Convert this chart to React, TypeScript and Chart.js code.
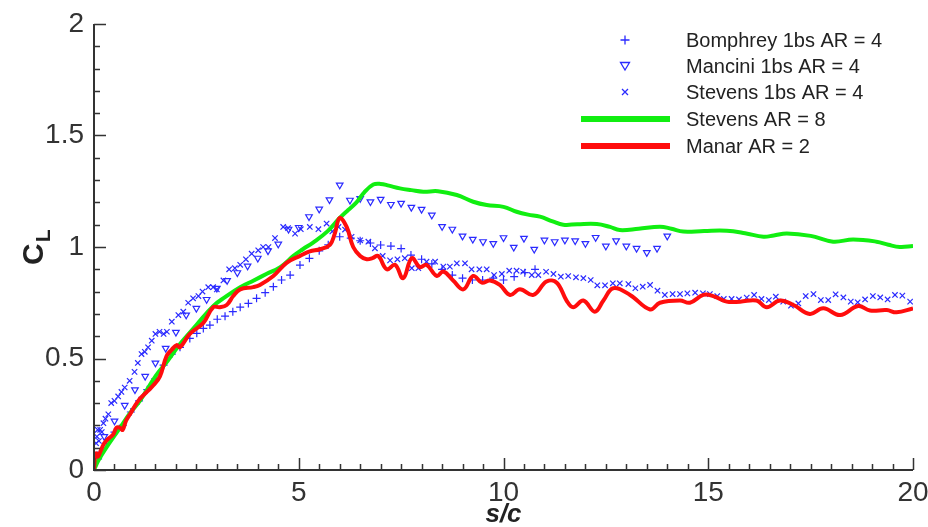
import React, { useEffect, useRef } from "react";
import { Chart, registerables } from "chart.js";

Chart.register(...registerables);

const seriesNames = [
  "Bomphrey 1bs AR = 4",
  "Mancini 1bs AR = 4",
  "Stevens 1bs AR = 4",
  "Stevens AR = 8",
  "Manar AR = 2",
];

const xTickValues = [0, 5, 10, 15, 20];
const yTickValues = [0, 0.5, 1, 1.5, 2];
const xAxisTitle = "s/c";
const yAxisTitleMain = "C";
const yAxisTitleSub = "L";

// Bomphrey 1bs AR = 4 (+)
const bomphreyX = [0.1, 0.3, 0.5, 0.7, 0.9, 1.1, 1.3, 1.5, 1.7, 1.9, 2.1, 2.34, 2.51, 2.67, 2.83, 3.01, 3.2, 3.39, 3.57, 3.77, 3.97, 4.18, 4.38, 4.58, 4.79, 5.03, 5.26, 5.5, 5.72, 6.0, 6.27, 6.5, 6.75, 7.0, 7.25, 7.5, 7.74, 8.0, 8.25, 8.5, 8.75, 9.0, 9.24, 9.49, 9.75, 10.0, 10.26, 10.52, 10.77];
const bomphreyY = [0.05, 0.12, 0.17, 0.2, 0.26, 0.31, 0.36, 0.41, 0.47, 0.52, 0.55, 0.59, 0.613, 0.635, 0.65, 0.676, 0.69, 0.71, 0.73, 0.747, 0.77, 0.795, 0.822, 0.852, 0.874, 0.919, 0.949, 0.983, 1.01, 1.046, 1.04, 1.028, 1.018, 1.009, 1.004, 0.993, 0.964, 0.945, 0.924, 0.9, 0.874, 0.86, 0.852, 0.852, 0.86, 0.852, 0.867, 0.885, 0.9];

// Mancini 1bs AR = 4 (inverted triangle)
const manciniX = [0.25, 0.5, 0.75, 1.0, 1.25, 1.5, 1.75, 2.0, 2.25, 2.5, 2.75, 3.0, 3.25, 3.5, 3.75, 4.0, 4.25, 4.5, 4.75, 5.0, 5.25, 5.5, 5.75, 6.0, 6.25, 6.5, 6.75, 7.0, 7.25, 7.5, 7.75, 8.0, 8.25, 8.5, 8.75, 9.0, 9.25, 9.5, 9.75, 10.0, 10.25, 10.5, 10.75, 11.0, 11.25, 11.5, 11.75, 12.0, 12.25, 12.5, 12.75, 13.0, 13.25, 13.5, 13.75, 14.0];
const manciniY = [0.15, 0.22, 0.29, 0.36, 0.42, 0.48, 0.546, 0.618, 0.695, 0.725, 0.765, 0.815, 0.85, 0.885, 0.915, 0.95, 0.983, 1.013, 1.08, 1.088, 1.136, 1.17, 1.212, 1.278, 1.21, 1.218, 1.203, 1.214, 1.191, 1.196, 1.178, 1.169, 1.143, 1.092, 1.08, 1.049, 1.035, 1.024, 1.016, 1.042, 0.999, 1.039, 0.99, 1.031, 1.024, 1.031, 1.028, 1.016, 1.043, 1.004, 1.028, 1.004, 0.994, 0.975, 0.994, 1.049];

// Stevens 1bs AR = 4 (x)
const stevens1bsX = [0.03, 0.05, 0.07, 0.09, 0.12, 0.15, 0.19, 0.23, 0.28, 0.35, 0.42, 0.5, 0.59, 0.67, 0.75, 0.87, 0.99, 1.07, 1.16, 1.24, 1.32, 1.41, 1.5, 1.6, 1.7, 1.78, 1.9, 2.06, 2.18, 2.3, 2.42, 2.55, 2.65, 2.79, 2.91, 3.0, 3.16, 3.3, 3.44, 3.57, 3.71, 3.85, 4.01, 4.13, 4.26, 4.42, 4.62, 4.74, 4.91, 5.05, 5.27, 5.48, 5.68, 5.82, 5.97, 6.13, 6.29, 6.5, 6.7, 6.86, 7.05, 7.23, 7.41, 7.59, 7.76, 7.92, 8.12, 8.33, 8.53, 8.69, 8.86, 9.06, 9.22, 9.41, 9.59, 9.77, 9.96, 10.14, 10.32, 10.48, 10.69, 10.85, 11.04, 11.22, 11.4, 11.58, 11.77, 11.95, 12.13, 12.29, 12.48, 12.67, 12.84, 13.05, 13.22, 13.4, 13.58, 13.76, 13.94, 14.13, 14.31, 14.49, 14.68, 14.87, 15.04, 15.22, 15.38, 15.57, 15.75, 15.94, 16.12, 16.3, 16.48, 16.65, 16.83, 17.02, 17.2, 17.38, 17.57, 17.75, 17.93, 18.11, 18.3, 18.48, 18.65, 18.83, 19.02, 19.2, 19.38, 19.56, 19.74, 19.93];
const stevens1bsY = [0.07, 0.12, 0.15, 0.18, 0.13, 0.18, 0.17, 0.21, 0.23, 0.25, 0.3, 0.31, 0.33, 0.35, 0.37, 0.4, 0.44, 0.48, 0.52, 0.53, 0.55, 0.58, 0.61, 0.62, 0.61, 0.62, 0.665, 0.695, 0.71, 0.75, 0.77, 0.78, 0.8, 0.82, 0.82, 0.81, 0.85, 0.9, 0.905, 0.92, 0.945, 0.97, 0.985, 1.0, 1.0, 1.04, 1.09, 1.085, 1.06, 1.08, 1.09, 1.08, 1.105, 1.07, 1.09, 1.078, 1.046, 1.03, 1.024, 0.994, 0.96, 0.94, 0.945, 0.95, 0.905, 0.905, 0.934, 0.934, 0.912, 0.912, 0.927, 0.927, 0.9, 0.9, 0.9, 0.874, 0.879, 0.894, 0.894, 0.889, 0.874, 0.874, 0.889, 0.879, 0.867, 0.87, 0.864, 0.86, 0.852, 0.828, 0.828, 0.837, 0.837, 0.834, 0.815, 0.822, 0.83, 0.804, 0.785, 0.789, 0.789, 0.792, 0.795, 0.792, 0.789, 0.78, 0.767, 0.767, 0.765, 0.773, 0.785, 0.767, 0.762, 0.777, 0.755, 0.737, 0.747, 0.78, 0.789, 0.762, 0.762, 0.788, 0.774, 0.755, 0.752, 0.765, 0.78, 0.774, 0.765, 0.785, 0.782, 0.755];

// Stevens AR = 8 (green line)
const stevens8X = [0, 0.1, 0.3, 0.6, 0.9, 1.12, 1.5, 1.8, 2.1, 2.5, 2.91, 3.2, 3.57, 3.9, 4.22, 4.55, 4.87, 5.1, 5.35, 5.7, 6.0, 6.2, 6.41, 6.6, 6.82, 7.0, 7.2, 7.47, 7.75, 8.04, 8.4, 8.86, 9.26, 9.59, 10.0, 10.32, 10.6, 10.89, 11.2, 11.46, 11.8, 12.28, 12.6, 12.84, 13.3, 13.82, 14.1, 14.39, 14.9, 15.45, 15.9, 16.35, 16.6, 16.92, 17.5, 18.05, 18.54, 19.11, 19.4, 19.68, 20];
const stevens8Y = [0, 0.04, 0.1, 0.18, 0.26, 0.31, 0.42, 0.49, 0.565, 0.65, 0.735, 0.775, 0.82, 0.85, 0.88, 0.91, 0.96, 0.99, 1.02, 1.07, 1.13, 1.165, 1.2, 1.245, 1.28, 1.283, 1.275, 1.263, 1.255, 1.248, 1.25, 1.233, 1.203, 1.188, 1.18, 1.158, 1.145, 1.136, 1.115, 1.1, 1.102, 1.103, 1.09, 1.076, 1.082, 1.091, 1.082, 1.069, 1.072, 1.073, 1.062, 1.046, 1.052, 1.061, 1.05, 1.024, 1.034, 1.024, 1.01, 1.0, 1.004];

// Manar AR = 2 (red line)
const manarX = [0, 0.03, 0.06, 0.1, 0.15, 0.25, 0.35, 0.47, 0.55, 0.63, 0.7, 0.78, 0.88, 1.08, 1.29, 1.45, 1.61, 1.77, 1.9, 2.02, 2.1, 2.34, 2.67, 2.91, 3.07, 3.24, 3.4, 3.57, 3.89, 4.05, 4.38, 4.71, 5.03, 5.27, 5.52, 5.76, 5.88, 6.0, 6.17, 6.33, 6.5, 6.66, 6.8, 6.94, 7.15, 7.35, 7.55, 7.76, 7.96, 8.12, 8.37, 8.53, 8.77, 9.02, 9.26, 9.47, 9.67, 9.91, 10.16, 10.4, 10.73, 11.05, 11.3, 11.54, 11.7, 11.95, 12.23, 12.44, 12.68, 13.09, 13.58, 13.82, 14.31, 14.55, 14.88, 15.12, 15.45, 15.78, 16.18, 16.43, 16.75, 17.08, 17.48, 17.81, 18.22, 18.66, 18.95, 19.36, 19.6, 20];
const manarY = [0, 0.07, 0.075, 0.06, 0.08, 0.12, 0.14, 0.16, 0.19, 0.19, 0.18, 0.22, 0.25, 0.31, 0.35, 0.38, 0.42, 0.51, 0.54, 0.56, 0.55, 0.61, 0.66, 0.73, 0.73, 0.74, 0.78, 0.81, 0.82, 0.83, 0.87, 0.93, 0.96, 0.98, 0.99, 1.01, 1.06, 1.13, 1.09, 1.0, 0.96, 0.945, 0.95, 0.96, 0.9, 0.92, 0.86, 0.95, 0.91, 0.92, 0.87, 0.89, 0.85, 0.81, 0.87, 0.84, 0.85, 0.83, 0.785, 0.81, 0.785, 0.845, 0.84, 0.76, 0.73, 0.76, 0.71, 0.76, 0.815, 0.785, 0.72, 0.75, 0.76, 0.75, 0.785, 0.78, 0.755, 0.755, 0.76, 0.73, 0.76, 0.74, 0.7, 0.725, 0.695, 0.735, 0.715, 0.717, 0.707, 0.725];

const BLUE = "#2a2aff";
const GREEN = "#11ee11";
const RED = "#ff0d0d";
const AXIS = "#333333";
const FONT = "'Liberation Sans', Arial, sans-serif";
const TICK_FONT = "'Liberation Sans Narrow', 'Arial Narrow', 'Liberation Sans', Arial, sans-serif";

const pts = (xs: number[], ys: number[]) => xs.map((x, i) => ({ x, y: ys[i] }));

const decor = {
  id: "decor",
  afterDraw(chart: any) {
    const { ctx, chartArea, scales } = chart;
    const { left, right, top, bottom } = chartArea;
    const xs = scales.x;
    const ys = scales.y;
    ctx.save();
    ctx.strokeStyle = AXIS;
    ctx.lineWidth = 2;
    ctx.beginPath();
    ctx.moveTo(left, top);
    ctx.lineTo(left, bottom);
    ctx.lineTo(right, bottom);
    ctx.stroke();
    ctx.lineWidth = 1.5;
    ctx.beginPath();
    for (let v = 0; v <= 20.001; v += 0.5) {
      const px = Math.round(xs.getPixelForValue(v)) + 0.5;
      const major = Math.abs(v / 5 - Math.round(v / 5)) < 1e-6;
      ctx.moveTo(px, bottom);
      ctx.lineTo(px, bottom - (major ? 12 : 6));
    }
    for (let v = 0; v <= 2.0001; v += 0.1) {
      const py = Math.round(ys.getPixelForValue(v)) + 0.5;
      const major = Math.abs(v / 0.5 - Math.round(v / 0.5)) < 1e-6;
      ctx.moveTo(left, py);
      ctx.lineTo(left + (major ? 12 : 6), py);
    }
    ctx.stroke();

    // axis titles
    ctx.fillStyle = "#222";
    ctx.font = `italic bold 26px ${FONT}`;
    ctx.textAlign = "center";
    ctx.textBaseline = "alphabetic";
    ctx.fillText(xAxisTitle, (left + right) / 2, 522);

    ctx.save();
    ctx.translate(43, (top + bottom) / 2 + 18);
    ctx.rotate(-Math.PI / 2);
    ctx.textAlign = "left";
    ctx.font = `bold 30px ${FONT}`;
    ctx.fillText(yAxisTitleMain, 0, 0);
    const cw = ctx.measureText(yAxisTitleMain).width;
    ctx.font = `bold 21px ${FONT}`;
    ctx.fillText(yAxisTitleSub, cw + 1, 7);
    ctx.restore();

    // legend
    const rowsY = [40, 66, 92, 119, 146];
    const textX = 686;
    const symX = 625;
    ctx.font = `20px ${FONT}`;
    ctx.textAlign = "left";
    ctx.textBaseline = "middle";
    ctx.fillStyle = "#222";
    seriesNames.forEach((n, i) => ctx.fillText(n, textX, rowsY[i] + 1));
    ctx.strokeStyle = BLUE;
    ctx.lineWidth = 1.3;
    ctx.beginPath();
    ctx.moveTo(symX - 4.5, rowsY[0]);
    ctx.lineTo(symX + 4.5, rowsY[0]);
    ctx.moveTo(symX, rowsY[0] - 4.5);
    ctx.lineTo(symX, rowsY[0] + 4.5);
    ctx.stroke();
    ctx.beginPath();
    ctx.moveTo(symX - 4.5, rowsY[1] - 3.5);
    ctx.lineTo(symX + 4.5, rowsY[1] - 3.5);
    ctx.lineTo(symX, rowsY[1] + 4);
    ctx.closePath();
    ctx.stroke();
    ctx.beginPath();
    ctx.moveTo(symX - 3, rowsY[2] - 3);
    ctx.lineTo(symX + 3, rowsY[2] + 3);
    ctx.moveTo(symX + 3, rowsY[2] - 3);
    ctx.lineTo(symX - 3, rowsY[2] + 3);
    ctx.stroke();
    ctx.lineWidth = 6;
    ctx.strokeStyle = GREEN;
    ctx.beginPath();
    ctx.moveTo(581, rowsY[3]);
    ctx.lineTo(670, rowsY[3]);
    ctx.stroke();
    ctx.strokeStyle = RED;
    ctx.beginPath();
    ctx.moveTo(581, rowsY[4]);
    ctx.lineTo(670, rowsY[4]);
    ctx.stroke();
    ctx.restore();
  },
};

export default function App() {
  const ref = useRef<HTMLCanvasElement | null>(null);
  useEffect(() => {
    if (!ref.current) return;
    const chart = new Chart(ref.current, {
      type: "scatter",
      data: {
        datasets: [
          {
            label: seriesNames[4],
            data: pts(manarX, manarY),
            showLine: true,
            borderColor: RED,
            borderWidth: 4,
            pointRadius: 0,
            tension: 0.4,
            order: 0,
          },
          {
            label: seriesNames[3],
            data: pts(stevens8X, stevens8Y),
            showLine: true,
            borderColor: GREEN,
            borderWidth: 4,
            pointRadius: 0,
            tension: 0.4,
            order: 1,
          },
          {
            label: seriesNames[0],
            data: pts(bomphreyX, bomphreyY),
            pointStyle: "cross",
            pointRadius: 4,
            borderColor: BLUE,
            pointBorderWidth: 1.2,
            order: 2,
          },
          {
            label: seriesNames[1],
            data: pts(manciniX, manciniY),
            pointStyle: "triangle",
            pointRotation: 180,
            pointRadius: 3.8,
            borderColor: BLUE,
            backgroundColor: "rgba(255,255,255,0)",
            pointBorderWidth: 1.2,
            order: 2,
          },
          {
            label: seriesNames[2],
            data: pts(stevens1bsX, stevens1bsY),
            pointStyle: "crossRot",
            pointRadius: 3.8,
            borderColor: BLUE,
            pointBorderWidth: 1.2,
            order: 2,
          },
        ],
      },
      options: {
        responsive: false,
        animation: false,
        layout: { padding: { left: 0, right: 15, top: 24, bottom: 0 } },
        plugins: { legend: { display: false }, tooltip: { enabled: false } },
        scales: {
          x: {
            type: "linear",
            min: 0,
            max: 20,
            afterBuildTicks: (s: any) => {
              s.ticks = xTickValues.map((v) => ({ value: v }));
            },
            afterFit: (s: any) => {
              s.height = 57;
              s.paddingLeft = 0;
              s.paddingRight = 0;
            },
            grid: { display: false, drawTicks: false },
            border: { display: false },
            ticks: {
              color: "#333",
              padding: 6,
              maxRotation: 0,
              callback: (v: any) => String(v),
              font: { family: TICK_FONT, size: 28 },
            },
          },
          y: {
            type: "linear",
            min: 0,
            max: 2,
            afterBuildTicks: (s: any) => {
              s.ticks = yTickValues.map((v) => ({ value: v }));
            },
            afterFit: (s: any) => {
              s.width = 94;
              s.paddingTop = 0;
              s.paddingBottom = 0;
            },
            grid: { display: false, drawTicks: false },
            border: { display: false },
            ticks: {
              color: "#333",
              padding: 10,
              callback: (v: any) => String(v),
              font: { family: TICK_FONT, size: 28 },
            },
          },
        },
      },
      plugins: [decor],
    });
    return () => chart.destroy();
  }, []);
  return (
    <div style={{ position: "absolute", left: 0, top: 0, width: 928, height: 527 }}>
      <canvas ref={ref} width={928} height={527} />
    </div>
  );
}
